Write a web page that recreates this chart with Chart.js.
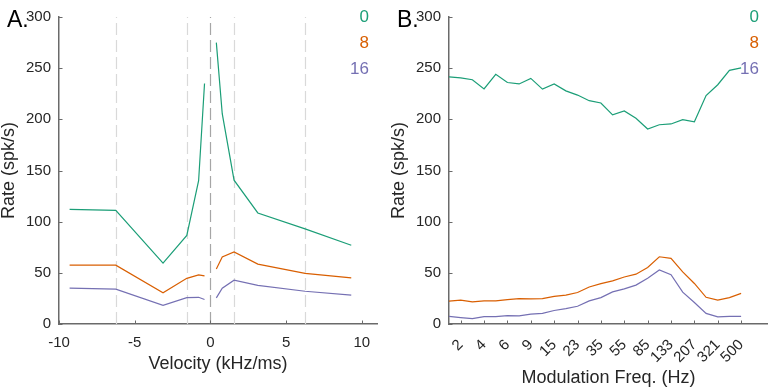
<!DOCTYPE html>
<html><head><meta charset="utf-8">
<script src="https://cdn.jsdelivr.net/npm/chart.js@4"></script>
<style>
html,body{margin:0;padding:0;background:#fff;overflow:hidden;width:768px;height:389px}
#wa{position:absolute;left:0;top:0;width:384px;height:389px}
#wb{position:absolute;left:390px;top:0;width:378px;height:389px}
</style></head><body>
<div id="wa"><canvas id="ca"></canvas></div>
<div id="wb"><canvas id="cb"></canvas></div>
<script>
// ---- Panel A data ----
const velocity = [-9.3, -6.25, -3.13, -1.56, -0.78, -0.39, 0, 0.39, 0.78, 1.56, 3.13, 6.25, 9.3];
const rateA0  = [112, 111, 59.5, 86.5, 140, 235, null, 275, 205.5, 140.5, 108.5, 93, 77];
const rateA8  = [57.5, 57.5, 30.5, 44.6, 48, 47, null, 53.8, 65.4, 70.5, 58.5, 49.4, 45];
const rateA16 = [35, 34, 18.2, 25.8, 26.1, 24, null, 25.5, 35, 42.8, 37.7, 32, 28.3];
const velocityTicks = [-10, -5, 0, 5, 10];
const dashedVelocities = [-6.25, -1.56, 0, 1.56, 6.25];

// ---- Panel B data ----
const freqCats = ['1.6','2','3','4','5','6','7','9','12','15','19','23','29','35','44','55','69','85','107','133','166','207','258','321','400','500'];
const freqTickLabels = ['2','4','6','9','15','23','35','55','85','133','207','321','500'];
const rateB0  = [241.5, 240.6, 238.7, 229.7, 244, 236, 234.6, 240, 229.5, 234.6, 227.8, 223.7, 218.2, 216, 204.4, 208.2, 201, 190.6, 194.7, 195.5, 199.7, 197.6, 223.3, 233.8, 247.8, 250.2];
const rateB8  = [22.3, 23.3, 21.7, 22.6, 22.6, 23.9, 24.8, 24.5, 24.8, 27, 28.3, 30.8, 36.2, 39.4, 42.2, 45.9, 48.7, 55.3, 65.7, 64.2, 50.9, 39.6, 26.1, 23.3, 25.8, 29.9];
const rateB16 = [7.5, 6.3, 5.3, 7.2, 7.2, 8.2, 8, 9.7, 10.4, 13.2, 15.1, 17.3, 22.6, 25.8, 31.4, 34.3, 38, 44.7, 52.8, 48.1, 31.1, 21, 10.4, 6.9, 7.5, 7.5];

const rateTicks = [0, 50, 100, 150, 200, 250, 300];
const seriesNames = ['0', '8', '16'];
const seriesColors = ['#1b9e77', '#d95f02', '#7570b3'];

const FONT = '"Liberation Sans", Arial, sans-serif';
const TEXT = '#262626';
const AXIS = '#6a6a6a';
const TICK_SIZE = 15;
const TITLE_SIZE = 18;

const panelPlugin = {
  id: 'panelDeco',
  beforeDatasetsDraw(chart, args, opts) {
    if (!opts.vlines) return;
    const {ctx, chartArea} = chart;
    const xs = chart.scales.x;
    ctx.save();
    ctx.lineWidth = 1.2;
    ctx.setLineDash([12, 5]);
    ctx.lineDashOffset = -6;
    opts.vlines.forEach(v => {
      const px = Math.round(xs.getPixelForValue(v)) + 0.5;
      ctx.strokeStyle = v === 0 ? '#a6a6a6' : '#d9d9d9';
      ctx.beginPath();
      ctx.moveTo(px, chartArea.top);
      ctx.lineTo(px, chartArea.bottom);
      ctx.stroke();
    });
    ctx.restore();
  },
  afterDraw(chart, args, opts) {
    const {ctx, chartArea} = chart;
    const xs = chart.scales.x, ys = chart.scales.y;
    ctx.save();
    ctx.strokeStyle = AXIS;
    ctx.lineWidth = 1;
    ys.ticks.forEach(t => {
      const py = Math.round(ys.getPixelForValue(t.value)) + 0.5;
      ctx.beginPath(); ctx.moveTo(chartArea.left, py); ctx.lineTo(chartArea.left + 3.5, py); ctx.stroke();
    });
    xs.ticks.forEach(t => {
      const px = Math.round(xs.getPixelForValue(t.value)) + 0.5;
      ctx.beginPath(); ctx.moveTo(px, chartArea.bottom); ctx.lineTo(px, chartArea.bottom - 3.5); ctx.stroke();
    });
    // panel letter
    ctx.fillStyle = '#000';
    ctx.font = '23px ' + FONT;
    ctx.textAlign = 'left';
    ctx.textBaseline = 'alphabetic';
    ctx.fillText(opts.letter, 7, 27);
    // legend
    ctx.font = '17px ' + FONT;
    ctx.textAlign = 'right';
    chart.data.datasets.forEach((d, i) => {
      ctx.fillStyle = d.borderColor;
      ctx.fillText(d.label, 369, 22 + i * 26);
    });
    ctx.restore();
  }
};

function yScale() {
  return {
    type: 'linear', min: 0, max: 300,
    afterBuildTicks: s => { s.ticks = rateTicks.map(v => ({value: v})); },
    afterFit: s => { s.width = 59; },
    grid: {display: false, drawTicks: false},
    border: {display: true, color: AXIS, width: 1.5},
    ticks: {padding: 8, color: TEXT, font: {family: FONT, size: TICK_SIZE}},
    title: {display: true, text: 'Rate (spk/s)', color: TEXT, font: {family: FONT, size: TITLE_SIZE, lineHeight: 1}, padding: {top: 0, bottom: 0}}
  };
}

const common = {
  responsive: true, maintainAspectRatio: false, animation: false,
  events: [],
  elements: {point: {radius: 0}, line: {tension: 0, borderWidth: 1.2}},
  spanGaps: false,
  plugins: {legend: {display: false}, tooltip: {enabled: false}}
};

function mkDatasets(xs, arrs) {
  return arrs.map((arr, i) => ({
    label: seriesNames[i],
    data: arr.map((v, k) => ({x: xs[k], y: v})),
    borderColor: seriesColors[i],
    backgroundColor: seriesColors[i],
    fill: false
  }));
}

new Chart(document.getElementById('ca'), {
  type: 'line',
  data: {datasets: mkDatasets(velocity, [rateA0, rateA8, rateA16])},
  plugins: [panelPlugin],
  options: Object.assign({}, common, {
    layout: {padding: {top: 6, right: 7, left: 0, bottom: 0}},
    plugins: Object.assign({}, common.plugins, {panelDeco: {letter: 'A.', vlines: dashedVelocities}}),
    scales: {
      x: {
        type: 'linear', min: -10, max: 11,
        afterBuildTicks: s => { s.ticks = velocityTicks.map(v => ({value: v})); },
        afterFit: s => { s.height = 65; },
        grid: {display: false, drawTicks: false},
        border: {display: true, color: AXIS, width: 1.5},
        ticks: {padding: 10, color: TEXT, font: {family: FONT, size: TICK_SIZE}, maxRotation: 0},
        title: {display: true, text: 'Velocity (kHz/ms)', color: TEXT, font: {family: FONT, size: TITLE_SIZE, lineHeight: 1}, padding: {top: 0, bottom: 16}}
      },
      y: yScale()
    }
  })
});

const idx = freqCats.map((_, i) => i);
new Chart(document.getElementById('cb'), {
  type: 'line',
  data: {datasets: mkDatasets(idx, [rateB0, rateB8, rateB16])},
  plugins: [panelPlugin],
  options: Object.assign({}, common, {
    layout: {padding: {top: 6, right: 0, left: 0, bottom: 0}},
    plugins: Object.assign({}, common.plugins, {panelDeco: {letter: 'B.'}}),
    scales: {
      x: {
        type: 'linear', min: 0, max: 27.3,
        afterBuildTicks: s => { s.ticks = freqTickLabels.map(l => ({value: freqCats.indexOf(l)})); },
        afterFit: s => { s.height = 65; },
        grid: {display: false, drawTicks: false},
        border: {display: true, color: AXIS, width: 1.5},
        ticks: {padding: 12, color: TEXT, font: {family: FONT, size: TICK_SIZE}, minRotation: 45, maxRotation: 45, autoSkip: false,
                callback: v => freqCats[v]},
        title: {display: true, text: 'Modulation Freq. (Hz)', color: TEXT, font: {family: FONT, size: TITLE_SIZE, lineHeight: 1}, padding: {top: 0, bottom: 2}}
      },
      y: yScale()
    }
  })
});
</script>
</body></html>
